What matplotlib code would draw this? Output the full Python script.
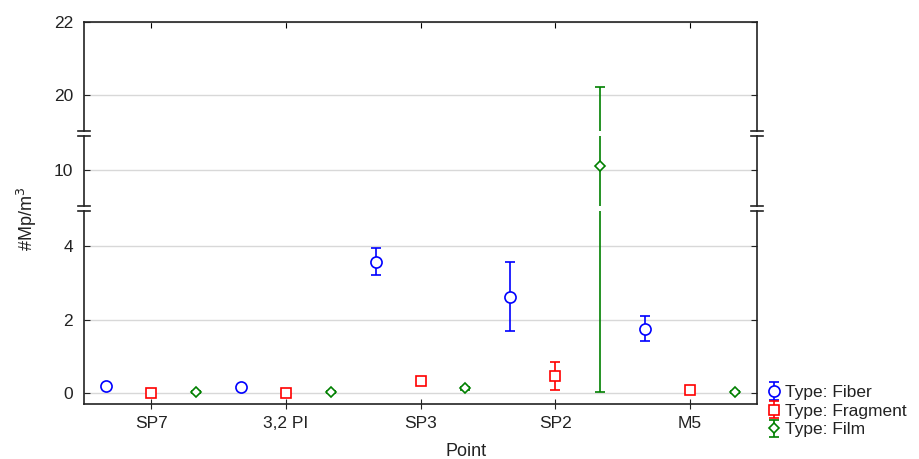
import matplotlib
matplotlib.use('Agg')
import matplotlib.pyplot as plt
import numpy as np

plt.rcParams['font.family'] = ['Liberation Sans', 'DejaVu Sans']

points = ['SP7', '3,2 PI', 'SP3', 'SP2', 'M5']
types = ['Fiber', 'Fragment', 'Film']

fiber_mean = [0.20, 0.15, 3.57, 2.63, 1.75]
fiber_lo = [0.15, 0.10, 3.21, 1.69, 1.41]
fiber_hi = [0.25, 0.20, 3.95, 3.57, 2.09]

frag_mean = [0.00, 0.00, 0.33, 0.46, 0.07]
frag_lo = [-0.04, -0.04, 0.28, 0.08, 0.04]
frag_hi = [0.04, 0.04, 0.38, 0.84, 0.10]

film_mean = [0.02, 0.03, 0.12, 10.12, 0.03]
film_lo = [0.00, 0.01, 0.08, 0.03, 0.01]
film_hi = [0.04, 0.05, 0.16, 20.22, 0.05]

# broken y axis: (ylim, ticks) from top segment to bottom
segments = [((19.02, 22.0), [20, 22]),
            ((9.02, 10.93), [10]),
            ((-0.30, 4.97), [0, 2, 4])]

W, H = 919, 459
fig = plt.figure(figsize=(W / 100, H / 100), dpi=100)

left_px, right_px, top_px = 84, 757, 22
gap_px = 5
scale = 36.6  # px per unit
fs = 12.5

axes = []
y = top_px
for i, (lim, ticks) in enumerate(segments):
    h = (lim[1] - lim[0]) * scale
    ax = fig.add_axes([left_px / W, 1 - (y + h) / H, (right_px - left_px) / W, h / H])
    axes.append((ax, y, y + h))
    y += h + gap_px

styles = [
    ('Type: Fiber', fiber_mean, fiber_lo, fiber_hi, '#0000ff', 'o', 8, -1 / 3),
    ('Type: Fragment', frag_mean, frag_lo, frag_hi, '#ff0000', 's', 7.5, 0.0),
    ('Type: Film', film_mean, film_lo, film_hi, '#008000', 'D', 5.5, 1 / 3),
]

x = np.arange(len(points))
handles = []
for idx, ((ax, ytop, ybot), (lim, ticks)) in enumerate(zip(axes, segments)):
    for label, m, lo, hi, col, mk, ms, off in styles:
        m = np.array(m)
        err = [m - np.array(lo), np.array(hi) - m]
        h = ax.errorbar(x + off, m, yerr=err, fmt=mk, color=col, ms=ms,
                        mfc='white', mec=col, mew=1.2, elinewidth=1.2,
                        capsize=3.5, capthick=1.2, label=label, clip_on=True)
        if idx == 0:
            handles.append(h)
    ax.set_xlim(-0.5, len(points) - 0.5)
    ax.set_ylim(*lim)
    ax.set_yticks(ticks)
    ax.grid(axis='y', color='#d8d8d8', lw=1)
    ax.set_axisbelow(True)
    ax.tick_params(axis='y', direction='in', left=True, right=True, length=4,
                   labelsize=fs, colors='#222222', pad=8)
    ax.set_xticks(x)
    for s in ['left', 'right', 'top', 'bottom']:
        ax.spines[s].set_color('#222222')
        ax.spines[s].set_linewidth(1.2)
    if idx != 0:
        ax.spines['top'].set_visible(False)
    if idx != len(segments) - 1:
        ax.spines['bottom'].set_visible(False)
        ax.tick_params(axis='x', bottom=False, labelbottom=False)
    if idx == 0:
        ax.tick_params(axis='x', top=True, direction='in', length=4)
    if idx == len(segments) - 1:
        ax.set_xticklabels(points)
        ax.tick_params(axis='x', direction='inout', length=7, labelsize=fs,
                       colors='#222222', pad=5)

# break marks on both spines
for (ax, ytop, ybot) in axes[:-1]:
    for xp in (left_px, right_px):
        for yy in (ybot, ybot + gap_px):
            fig.add_artist(plt.Line2D([(xp - 6) / W, (xp + 6) / W],
                                      [1 - yy / H, 1 - yy / H],
                                      color='#222222', lw=1.2))

fig.text(27 / W, 1 - 219 / H, '#Mp/m$^3$', rotation=90, ha='center', va='center',
         fontsize=13, color='#222222')
fig.text(466 / W, 1 - 451 / H, 'Point', ha='center', va='center',
         fontsize=13, color='#222222')

fig.legend(handles=handles, loc='lower left', bbox_to_anchor=(757 / W, 1 - 446 / H),
           frameon=False, fontsize=fs, handlelength=1.0, handletextpad=0.1,
           labelspacing=0.2, borderpad=0, labelcolor='#222222')

fig.savefig('out.png', dpi=100)
